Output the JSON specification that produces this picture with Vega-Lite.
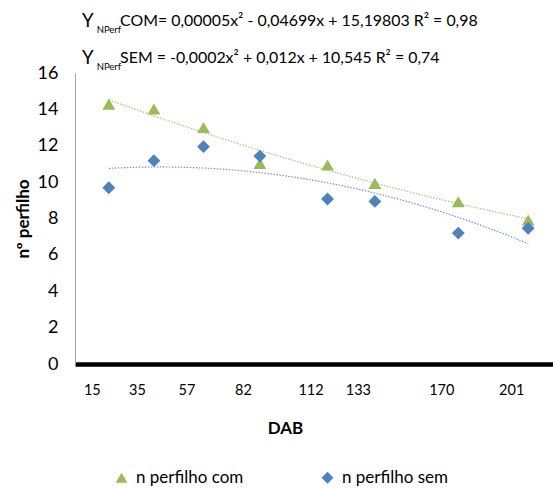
{
  "$schema": "https://vega.github.io/schema/vega-lite/v6.json",
  "width": 478,
  "height": 291,
  "autosize": {"type": "none"},
  "padding": {"left": 75, "top": 73, "right": 0, "bottom": 124},
  "background": "white",
  "config": {
    "view": {"stroke": null},
    "font": "Lato",
    "axis": {"grid": false, "ticks": false, "tickSize": 0, "labelOverlap": false, "labelFlush": false, "labelColor": "black", "titleColor": "black", "titleFontWeight": "bold"},
    "axisY": {"domainColor": "#A6A6A6", "domainWidth": 1, "labelFontSize": 18, "labelPadding": 17, "titleFontSize": 17, "titleX": -52, "titleY": 145.5, "titleAngle": 270, "titleBaseline": "middle", "titleAlign": "center", "tickCount": 9},
    "axisX": {"domainColor": "black", "domainWidth": 4.5, "labelFontSize": 14.5, "labelPadding": 19, "labelBaseline": "top", "labelOffset": -17, "titleFontSize": 17, "titleX": 210, "titleY": 64, "titleBaseline": "middle"}
  },
  "datasets": {
    "pts": [
      {"DAB": 15, "nperf": 14.29, "serie": "n perfilho com"},
      {"DAB": 35, "nperf": 14.02, "serie": "n perfilho com"},
      {"DAB": 57, "nperf": 13.0, "serie": "n perfilho com"},
      {"DAB": 82, "nperf": 11.03, "serie": "n perfilho com"},
      {"DAB": 112, "nperf": 10.94, "serie": "n perfilho com"},
      {"DAB": 133, "nperf": 9.93, "serie": "n perfilho com"},
      {"DAB": 170, "nperf": 8.92, "serie": "n perfilho com"},
      {"DAB": 201, "nperf": 7.92, "serie": "n perfilho com"},
      {"DAB": 15, "nperf": 9.69, "serie": "n perfilho sem"},
      {"DAB": 35, "nperf": 11.18, "serie": "n perfilho sem"},
      {"DAB": 57, "nperf": 11.95, "serie": "n perfilho sem"},
      {"DAB": 82, "nperf": 11.43, "serie": "n perfilho sem"},
      {"DAB": 112, "nperf": 9.07, "serie": "n perfilho sem"},
      {"DAB": 133, "nperf": 8.94, "serie": "n perfilho sem"},
      {"DAB": 170, "nperf": 7.2, "serie": "n perfilho sem"},
      {"DAB": 201, "nperf": 7.46, "serie": "n perfilho sem"}
    ],
    "eq1": [{"Y": "Y", "sub": "NPerf", "eq": "COM= 0,00005x² - 0,04699x + 15,19803  R² = 0,98"}],
    "eq2": [{"Y": "Y", "sub": "NPerf", "eq": "SEM = -0,0002x² + 0,012x + 10,545  R² = 0,74"}]
  },
  "layer": [
    {
      "data": {"name": "pts"},
      "transform": [
        {"filter": "datum.serie === 'n perfilho com'"},
        {"regression": "nperf", "on": "DAB", "method": "poly", "order": 2, "extent": [15, 201]}
      ],
      "mark": {"type": "line", "strokeWidth": 1.2, "strokeDash": [1.5, 1.5], "color": "#A6C776"},
      "encoding": {
        "x": {
          "field": "DAB", "type": "quantitative",
          "scale": {"domain": [0, 212], "nice": false, "zero": false},
          "axis": {"values": [15, 35, 57, 82, 112, 133, 170, 201], "title": "DAB"}
        },
        "y": {
          "field": "nperf", "type": "quantitative",
          "scale": {"domain": [0, 16], "nice": false, "zero": false},
          "axis": {"values": [0, 2, 4, 6, 8, 10, 12, 14, 16], "title": "nº perfilho"}
        }
      }
    },
    {
      "data": {"name": "pts"},
      "transform": [
        {"filter": "datum.serie === 'n perfilho sem'"},
        {"regression": "nperf", "on": "DAB", "method": "poly", "order": 2, "extent": [15, 201]}
      ],
      "mark": {"type": "line", "strokeWidth": 1.2, "strokeDash": [1.5, 1.5], "color": "#6A98D0"},
      "encoding": {
        "x": {"field": "DAB", "type": "quantitative", "axis": {"values": [15, 35, 57, 82, 112, 133, 170, 201], "title": "DAB"}},
        "y": {"field": "nperf", "type": "quantitative", "axis": {"values": [0, 2, 4, 6, 8, 10, 12, 14, 16], "title": "nº perfilho"}}
      }
    },
    {
      "data": {"name": "pts"},
      "mark": {"type": "point", "filled": true, "opacity": 1, "size": 165, "strokeWidth": 0},
      "encoding": {
        "x": {"field": "DAB", "type": "quantitative", "axis": {"values": [15, 35, 57, 82, 112, 133, 170, 201], "title": "DAB"}},
        "y": {"field": "nperf", "type": "quantitative", "axis": {"values": [0, 2, 4, 6, 8, 10, 12, 14, 16], "title": "nº perfilho"}},
        "color": {
          "field": "serie", "type": "nominal",
          "scale": {"domain": ["n perfilho com", "n perfilho sem"], "range": ["#9BBB59", "#4F81BD"]},
          "legend": {
            "orient": "none", "legendX": 38, "legendY": 396, "direction": "horizontal", "title": null,
            "labelFontSize": 17, "labelColor": "black", "symbolSize": 140, "columnPadding": 75, "labelOffset": 6,
            "symbolStrokeWidth": 0, "symbolOpacity": 1
          }
        },
        "shape": {
          "field": "serie", "type": "nominal",
          "scale": {"domain": ["n perfilho com", "n perfilho sem"], "range": ["triangle-up", "diamond"]}
        }
      }
    },
    {
      "data": {"name": "eq1"},
      "mark": {"type": "text", "fontSize": 18.5, "align": "left", "baseline": "middle", "color": "black"},
      "encoding": {"x": {"datum": 3.1}, "y": {"datum": 18.88}, "text": {"field": "Y"}}
    },
    {
      "data": {"name": "eq1"},
      "mark": {"type": "text", "fontSize": 9.5, "align": "left", "baseline": "middle", "color": "black"},
      "encoding": {"x": {"datum": 9.6}, "y": {"datum": 18.36}, "text": {"field": "sub"}}
    },
    {
      "data": {"name": "eq1"},
      "mark": {"type": "text", "fontSize": 15.9, "align": "left", "baseline": "middle", "color": "black"},
      "encoding": {"x": {"datum": 20.0}, "y": {"datum": 18.88}, "text": {"field": "eq"}}
    },
    {
      "data": {"name": "eq2"},
      "mark": {"type": "text", "fontSize": 18.5, "align": "left", "baseline": "middle", "color": "black"},
      "encoding": {"x": {"datum": 3.1}, "y": {"datum": 16.85}, "text": {"field": "Y"}}
    },
    {
      "data": {"name": "eq2"},
      "mark": {"type": "text", "fontSize": 9.5, "align": "left", "baseline": "middle", "color": "black"},
      "encoding": {"x": {"datum": 9.6}, "y": {"datum": 16.33}, "text": {"field": "sub"}}
    },
    {
      "data": {"name": "eq2"},
      "mark": {"type": "text", "fontSize": 15.9, "align": "left", "baseline": "middle", "color": "black"},
      "encoding": {"x": {"datum": 20.0}, "y": {"datum": 16.85}, "text": {"field": "eq"}}
    }
  ]
}
